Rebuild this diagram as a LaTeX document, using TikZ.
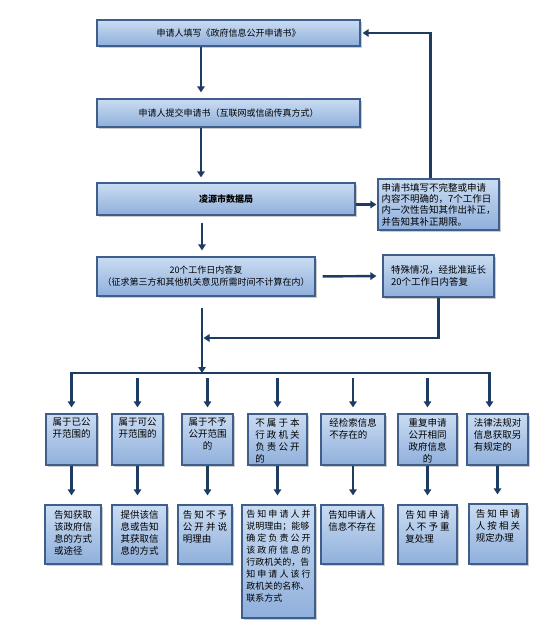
\documentclass[tikz,border=0pt]{standalone}
\usepackage{fontspec}
\setmainfont{Noto Sans CJK SC}
\usetikzlibrary{arrows.meta,shadows}
\definecolor{boxtop}{HTML}{CADCF2}
\definecolor{boxbot}{HTML}{8FAFDB}
\definecolor{boxline}{HTML}{3E5F8C}
\definecolor{arrowblue}{HTML}{1E3C62}
\begin{document}
\begin{tikzpicture}[x=1pt, y=-1pt,
  box/.style={draw=boxline, line width=1.2pt, top color=boxtop, bottom color=boxbot,
    drop shadow={opacity=0.4, shadow xshift=1.5pt, shadow yshift=-1.5pt},
    inner sep=0pt, font=\fontsize{9}{12}\selectfont},
  note/.style={anchor=north, inner sep=0pt, yshift=-4.5pt, align=center,
    font=\fontsize{9.5}{12}\selectfont},
  arr/.style={draw=arrowblue, line width=2.4pt, -{Triangle[length=6pt,width=7.5pt]}, shorten >=6pt},
  bar/.style={draw=arrowblue, line width=2.4pt, line cap=rect}]
  \useasboundingbox (0,0) rectangle (553,640);
  \coordinate (spine) at (201,0);
  \coordinate (bus) at (202,373);
  \coordinate (join) at (202,338);
  % main column
  \node[box, minimum width=263pt, minimum height=26pt] (apply) at (228.5,33) {申请人填写《政府信息公开申请书》};
  \node[box, minimum width=263pt, minimum height=28pt] (submit) at (228.5,113) {申请人提交申请书（互联网或信函传真方式）};
  \node[box, minimum width=258pt, minimum height=32pt] (bureau) at (226,199) {\bfseries 凌源市数据局};
  \node[box, minimum width=121pt, minimum height=51pt, align=left, font=\fontsize{9.5}{11.3}\selectfont] (amend) at (438.5,204.5)
    {申请书填写不完整或申请\\内容不明确的，7个工作日\\内一次性告知其作出补正，\\并告知其补正期限。};
  \node[box, minimum width=218pt, minimum height=39pt, align=center] (reply) at (206,276.5)
    {20个工作日内答复\\（征求第三方和其他机关意见所需时间不计算在内）};
  \node[box, minimum width=111pt, minimum height=42pt, align=left, font=\fontsize{9.5}{12}\selectfont] (extend) at (438.5,276)
    {特殊情况，经批准延长\\20个工作日内答复};
  % cases
  \node[box, minimum width=51pt, minimum height=51pt] (c1) at (71.5,439.5) {};
  \node[box, minimum width=51pt, minimum height=51pt] (c2) at (137.5,439.5) {};
  \node[box, minimum width=51pt, minimum height=51pt] (c3) at (207.5,439.5) {};
  \node[box, minimum width=59pt, minimum height=51pt] (c4) at (277.5,439.5) {};
  \node[box, minimum width=64pt, minimum height=51pt] (c5) at (353,439.5) {};
  \node[box, minimum width=59pt, minimum height=51pt] (c6) at (427.5,439.5) {};
  \node[box, minimum width=61pt, minimum height=51pt] (c7) at (497.5,439.5) {};
  \node[note] (c1t) at (c1.north) {属于已公\\开范围的};
  \node[note] (c2t) at (c2.north) {属于可公\\开范围的};
  \node[note] (c3t) at (c3.north) {属于不予\\公开范围\\的};
  \node[note, align=left] (c4t) at (c4.north) {不 属 于 本\\行 政 机 关\\负 责 公 开\\的};
  \node[note, align=left] (c5t) at (c5.north) {经检索信息\\不存在的};
  \node[note] (c6t) at (c6.north) {重复申请\\公开相同\\政府信息\\的};
  \node[note, align=left] (c7t) at (c7.north) {法律法规对\\信息获取另\\有规定的};
  % answers
  \node[box, minimum width=56pt, minimum height=59pt] (d1) at (73,534.5) {};
  \node[box, minimum width=55pt, minimum height=59pt] (d2) at (139.5,534.5) {};
  \node[box, minimum width=54pt, minimum height=59pt] (d3) at (205,534.5) {};
  \node[box, minimum width=73pt, minimum height=113pt] (d4) at (278.5,561.5) {};
  \node[box, minimum width=62pt, minimum height=59pt] (d5) at (352,534.5) {};
  \node[box, minimum width=59pt, minimum height=59pt] (d6) at (427.5,534.5) {};
  \node[box, minimum width=58pt, minimum height=60pt] (d7) at (498,534) {};
  \node[note, align=left, yshift=-1pt] (d1t) at (d1.north) {告知获取\\该政府信\\息的方式\\或途径};
  \node[note, align=left, yshift=-1pt] (d2t) at (d2.north) {提供该信\\息或告知\\其获取信\\息的方式};
  \node[note, align=left, yshift=-1pt] (d3t) at (d3.north) {告 知 不 予\\公 开 并 说\\明理由};
  \node[note, align=left, yshift=-1pt, font=\fontsize{9}{12}\selectfont] (d4t) at (d4.north)
    {告 知 申 请 人 并\\说明理由；能够\\确 定 负 责 公 开\\该 政 府 信 息 的\\行政机关的，告\\知 申 请 人 该 行\\政机关的名称、\\联系方式};
  \node[note, align=left, yshift=-1pt] (d5t) at (d5.north) {告知申请人\\信息不存在};
  \node[note, align=left, yshift=-1pt] (d6t) at (d6.north) {告 知 申 请\\人 不 予 重\\复处理};
  \node[note, align=left, yshift=-1pt] (d7t) at (d7.north) {告 知 申 请\\人 按 相 关\\规定办理};
  % connectors
  \draw[arr] (apply.south -| spine) -- (submit.north -| spine);
  \draw[arr, shorten >=5pt] (submit.south -| spine) -- (bureau.north -| spine);
  \draw[arr, shorten >=1pt] (bureau.east |- amend.west) -- (amend.west);
  \draw[arr, shorten >=2pt] ([xshift=-8pt]amend.north) |- (apply.east);
  \draw[arr, shorten <=7pt] (bureau.south -| bus) -- (reply.north -| bus);
  \draw[arr, shorten <=7pt] (reply.east) -- (extend.west);
  \draw[arr, shorten >=1.5pt] (extend.south) |- (join);
  \draw[arr, shorten <=11pt, shorten >=0pt] (reply.south -| bus) -- (bus);
  \draw[bar] (c1.north |- bus) -- ([xshift=-8pt]c7.north |- bus);
  \draw[arr] (c1.north |- bus) -- (c1.north);
  \draw[arr, shorten <=5pt] (c2.north |- bus) -- (c2.north);
  \draw[arr, shorten <=5pt] (c3.north |- bus) -- (c3.north);
  \draw[arr, shorten <=5pt] (c4.north |- bus) -- (c4.north);
  \draw[arr, shorten <=5pt] (c5.north |- bus) -- (c5.north);
  \draw[arr, shorten <=5pt] (c6.north |- bus) -- (c6.north);
  \draw[arr] ([xshift=-8pt]c7.north |- bus) -- ([xshift=-8pt]c7.north);
  \draw[arr, shorten >=9pt] (c1.south) -- (c1.south |- d1.north);
  \draw[arr, shorten >=9pt] (c2.south) -- (c2.south |- d2.north);
  \draw[arr, shorten >=9pt] (c3.south) -- (c3.south |- d3.north);
  \draw[arr, shorten >=9pt] (c4.south) -- (c4.south |- d4.north);
  \draw[arr, shorten >=9pt] (c5.south) -- (c5.south |- d5.north);
  \draw[arr, shorten >=9pt] (c6.south) -- (c6.south |- d6.north);
  \draw[arr, shorten >=9pt] (c7.south) -- (c7.south |- d7.north);
\end{tikzpicture}
\end{document}
